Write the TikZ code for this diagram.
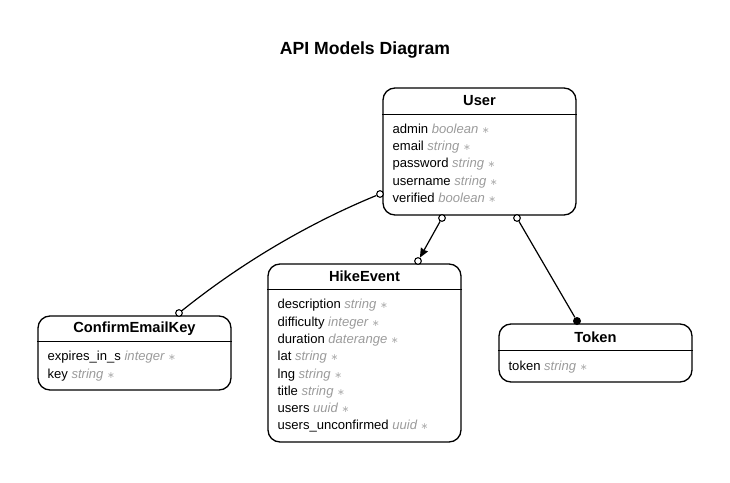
\documentclass[tikz,border=0pt]{standalone}
\usepackage{fontspec}
\setmainfont{Liberation Sans}
\newfontfamily\symfont{DejaVu Sans}
\usetikzlibrary{arrows.meta}
\usetikzlibrary{positioning}
\definecolor{typegray}{RGB}{155,155,155}
\definecolor{stargray}{RGB}{175,175,175}
\tikzset{
	entity/.style = {rectangle, draw=black, line width=1pt, rounded corners=9pt,
		minimum width=144.75pt, inner sep=0pt},% one model box
	entname/.style = {inner sep=0pt, font=\fontsize{11}{13}\selectfont\bfseries},
	field/.style = {anchor=base west, inner sep=0pt,
		font=\fontsize{9.8}{12}\selectfont},% one attribute row
	opendot/.style = {circle, draw=black, fill=white, line width=0.8pt,
		inner sep=0pt, minimum size=5pt},
	fulldot/.style = {circle, fill=black, inner sep=0pt, minimum size=6pt},
	link/.style = {line width=0.9pt}
}
\newcommand{\ftype}[1]{{\color{typegray}\itshape #1~{\color{stargray}\symfont\upshape\fontsize{7}{8}\selectfont ∗}}}

\begin{document}
\begin{tikzpicture}[x=0.75pt, y=-0.75pt]
	\useasboundingbox (0,0) rectangle (730,482);
	\node[inner sep=0pt, font=\fontsize{13.2}{15}\selectfont\bfseries] (title) at (365,50) {API Models Diagram};

	% User
	\node[entity, minimum height=95.25pt] (user) at (479.5,151.5) {};
	\node[entname] (usern) at ([shift={(0,13.5)}]user.north) {User};
	\draw[line width=1pt] ([shift={(0,27)}]user.north west) -- ([shift={(0,27)}]user.north east);
	\foreach \fld/\typ [count=\i] in {admin/boolean, email/string, password/string,
		username/string, verified/boolean}
		\node[field] at ([shift={(10,{46+(\i-1)*17.3})}]user.north west) {\fld\ \ftype{\typ}};

	% HikeEvent
	\node[entity, minimum height=133.5pt] (hike) at (364.5,353) {};
	\node[entname] (hiken) at ([shift={(0,13)}]hike.north) {HikeEvent};
	\draw[line width=1pt] ([shift={(0,26)}]hike.north west) -- ([shift={(0,26)}]hike.north east);
	\foreach \fld/\typ [count=\i] in {description/string, difficulty/integer,
		duration/daterange, lat/string, lng/string, title/string, users/uuid,
		users\_unconfirmed/uuid}
		\node[field] at ([shift={(10,{45.5+(\i-1)*17.3})}]hike.north west) {\fld\ \ftype{\typ}};

	% ConfirmEmailKey
	\node[entity, minimum height=55.5pt] (confirm) at (134.5,353) {};
	\node[entname] (confirmn) at ([shift={(0,13)}]confirm.north) {ConfirmEmailKey};
	\draw[line width=1pt] ([shift={(0,26)}]confirm.north west) -- ([shift={(0,26)}]confirm.north east);
	\foreach \fld/\typ [count=\i] in {expires\_in\_s/integer, key/string}
		\node[field] at ([shift={(10,{45.5+(\i-1)*17.3})}]confirm.north west) {\fld\ \ftype{\typ}};

	% Token
	\node[entity, minimum height=43.5pt] (token) at (595.5,353) {};
	\node[entname] (tokenn) at ([shift={(0,13.5)}]token.north) {Token};
	\draw[line width=1pt] ([shift={(0,27)}]token.north west) -- ([shift={(0,27)}]token.north east);
	\node[field] at ([shift={(10,47)}]token.north west) {token \ftype{string}};

	% relation ends
	\node[opendot] (u2c) at (380,194) {};
	\node[opendot] (u2h) at (442,218) {};
	\node[opendot] (u2t) at (517,218) {};
	\node[opendot] (h1) at (418,261) {};
	\node[opendot] (c1) at (179,313) {};
	\node[fulldot] (t1) at (577,321) {};

	\draw[link] (u2c) .. controls (307,224) and (240,264) .. (c1);
	\draw[link,-{Stealth[length=7pt,width=6pt,inset=0.5pt]}] (u2h) -- (h1);
	\draw[link] (u2t) -- (t1);
\end{tikzpicture}
\end{document}
